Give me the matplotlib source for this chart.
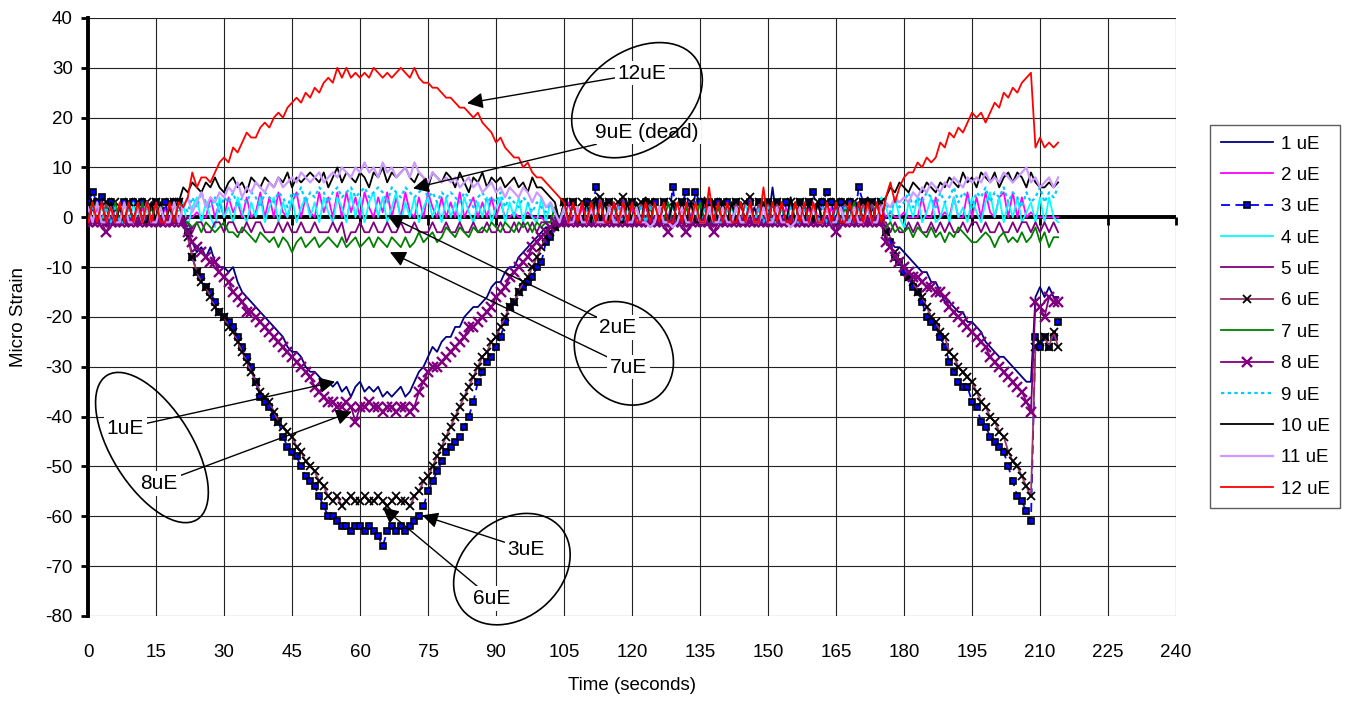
import matplotlib
matplotlib.use('Agg')
import matplotlib.pyplot as plt
import matplotlib.transforms as mtransforms
from matplotlib.patches import Ellipse
import numpy as np

plt.rcParams['font.family'] = ['Liberation Sans', 'DejaVu Sans']
plt.rcParams['axes.unicode_minus'] = False

# one reading per second, t = 0 .. 214 s (each row below = 10 seconds)
ch1 = [
    -1, 2, -1, 3, -1, -1, 2, -1, 3, -1,
    -1, 2, -1, -1, 3, -1, 2, -1, -1, 3,
    -1, -1, -3, -5, -7, -6, -8, -6, -9, -10,
    -10, -11, -10, -13, -15, -16, -17, -18, -19, -20,
    -21, -22, -23, -24, -26, -27, -27, -28, -30, -31,
    -31, -32, -33, -33, -34, -33, -35, -34, -36, -34,
    -33, -35, -34, -35, -34, -36, -35, -36, -35, -34,
    -36, -35, -33, -31, -30, -28, -26, -27, -25, -24,
    -24, -22, -22, -20, -19, -18, -18, -17, -16, -14,
    -13, -13, -11, -10, -10, -8, -7, -6, -5, -4,
    -3, -2, -2, -1, -1, 2, -1, 3, -1, -1,
    2, -1, -1, 3, -1, 2, -1, -1, 3, -1,
    -1, 2, -1, 3, -1, -1, 2, -1, -1, 3,
    -1, 2, -1, -1, 3, -1, 2, -1, 3, -1,
    -1, 2, -1, -1, 3, -1, -1, 2, -1, 3,
    -1, 6, -1, 2, -1, -1, 3, -1, 2, -1,
    -1, 3, -1, 2, -1, -1, 3, -1, 2, -1,
    3, -1, -1, 2, -1, -1, -4, -5, -6, -6,
    -7, -8, -9, -10, -11, -11, -13, -13, -15, -17,
    -17, -18, -19, -19, -21, -21, -22, -23, -25, -26,
    -27, -28, -28, -29, -30, -31, -32, -33, -33, -16,
    -14, -16, -14, -16, -16,
]
ch2 = [
    3, -1, 2, -1, -1, 3, -1, 2, -1, 3,
    -1, -1, 2, -1, 3, -1, -1, 2, -1, -1,
    3, -1, 0, 0, 1, 0, 0, 4, 0, 3,
    0, 4, 1, 3, 0, 4, 0, 1, 5, 0,
    4, 0, 5, 1, 0, 3, 5, 0, 4, 1,
    0, 5, 1, 4, 0, 5, 0, 5, 1, 4,
    0, 5, 2, 0, 4, 1, 5, 0, 4, 0,
    5, 1, 0, 4, 0, 5, 2, 0, 4, 0,
    3, 0, 5, 0, 2, 4, 0, 3, 0, 4,
    0, 3, 0, 0, 1, 0, 0, 1, 0, 0,
    0, -1, -1, 2, -1, -1, 3, -1, -1, 2,
    -1, -1, 3, -1, -1, 2, -1, 3, -1, -1,
    2, -1, -1, 3, -1, -1, 2, -1, -1, 3,
    -1, 2, -1, -1, 3, -1, -1, 2, -1, -1,
    3, -1, -1, 2, -1, 3, -1, -1, 2, -1,
    -1, 3, -1, -1, 2, -1, -1, 3, -1, 2,
    -1, -1, 3, -1, 2, -1, -1, 3, -1, -1,
    2, -1, 3, -1, -1, 2, 0, 1, 0, 0,
    1, 0, 0, 0, 4, 0, 0, 4, 0, 1,
    0, 4, 0, 0, 5, 0, 4, 0, 5, 1,
    0, 4, 5, 0, 5, 0, 4, 0, 1, 0,
    0, 0, 0, 0, 0,
]
ch3 = [
    3, 5, 3, 4, -1, 3, -1, -1, 3, -1,
    3, -1, 3, -1, -1, 3, -1, 3, -1, 3,
    3, -1, -3, -8, -11, -12, -14, -15, -17, -19,
    -20, -21, -22, -24, -26, -28, -30, -33, -36, -37,
    -38, -40, -41, -44, -46, -47, -48, -50, -52, -53,
    -54, -56, -58, -60, -60, -61, -62, -62, -63, -62,
    -62, -63, -62, -63, -64, -66, -63, -62, -63, -62,
    -63, -62, -61, -60, -58, -55, -53, -51, -49, -47,
    -46, -45, -44, -42, -40, -37, -33, -31, -29, -28,
    -26, -24, -21, -18, -17, -15, -14, -13, -12, -10,
    -9, -5, -4, -2, -1, 3, -1, 3, -1, -1,
    3, -1, 6, 3, -1, 3, -1, -1, 3, -1,
    3, -1, -1, 3, -1, 3, -1, 3, -1, 6,
    -1, 3, 5, -1, 5, 3, -1, 3, -1, 3,
    -1, 3, -1, 3, -1, -1, 3, -1, 3, -1,
    3, -1, 3, -1, 3, -1, -1, 3, -1, 3,
    5, -1, 3, 5, 3, -1, 3, -1, 3, -1,
    6, 3, -1, 3, -1, 3, -3, -5, -8, -9,
    -11, -12, -14, -15, -17, -20, -21, -22, -24, -26,
    -29, -31, -33, -34, -34, -37, -38, -41, -42, -44,
    -45, -46, -47, -50, -53, -56, -57, -59, -61, -24,
    -26, -24, -26, -24, -21,
]
ch4 = [
    -1, 3, -1, 2, 3, -1, -1, 2, -1, -1,
    3, -1, -1, 2, -1, 3, -1, -1, 2, -1,
    -1, 3, -2, 2, 4, -1, 3, 0, -2, 4,
    0, 2, -1, 4, 1, -1, 3, 0, 4, -1,
    2, 4, -1, 3, 0, 4, -1, 2, 4, 0,
    3, -1, 4, 1, -1, 4, 2, -1, 5, 0,
    4, -1, 3, 5, 0, 4, -1, 2, 5, -1,
    3, 0, 4, -1, 2, 4, 0, 3, -1, 4,
    0, 3, -1, 4, 1, -1, 3, 0, 4, -1,
    2, 4, -1, 3, 0, 4, -1, 3, 0, -1,
    4, -1, 3, -1, -1, 2, -1, 3, -1, -1,
    2, -1, -1, 3, -1, -1, 2, -1, 3, -1,
    -1, 2, -1, -1, 3, -1, 2, -1, -1, 3,
    -1, -1, 2, -1, 3, -1, -1, 2, -1, -1,
    3, -1, 2, -1, -1, 3, -1, -1, 2, -1,
    -1, 3, -1, 2, -1, 4, -1, -1, 3, -1,
    2, -1, -1, 3, -1, 2, -1, -1, 3, -1,
    -1, 2, -1, 3, -1, 4, 2, -1, 4, 0,
    -2, 3, 0, 4, -1, 1, 4, -1, 0, 3,
    -1, 4, 0, 2, -1, 4, 1, -1, 3, 5,
    0, 4, -1, 3, 0, 4, -1, 1, 3, -1,
    4, -1, 4, 0, -1,
]
ch5 = [
    -1, -1, -1, -1, -1, -1, -1, -1, -1, -1,
    -1, -1, -1, -1, -1, -1, -1, -1, -1, -1,
    -1, -1, -1, -3, -1, -1, -3, -3, -1, -1,
    -3, -1, -1, -3, -3, -1, -3, -1, -1, -3,
    -3, -3, -1, -3, -1, -3, -3, -1, -3, -3,
    -1, -3, -3, -3, -1, -3, -1, -5, -3, -3,
    -1, -3, -3, -1, -3, -3, -1, -3, -3, -1,
    -3, -3, -1, -3, -3, -3, -1, -3, -3, -1,
    -3, -3, -1, -3, -3, -1, -3, -3, -1, -3,
    -3, -1, -3, -3, -1, -3, -1, -3, -1, -3,
    -1, -1, -1, -1, -1, -1, -1, -1, -1, -1,
    -1, -1, -1, -1, -1, -1, -1, -1, -1, -1,
    -1, -1, -1, -1, -1, -1, -1, -1, -1, -1,
    -1, -1, -1, -1, -1, -1, -1, -1, -1, -1,
    -1, -1, -1, -1, -1, -1, -1, -1, -1, -1,
    -1, -1, -1, -1, -1, -1, -1, -1, -1, -1,
    -1, -1, -1, -1, -1, -1, -1, -1, -1, -1,
    -1, -1, -1, -1, -1, -1, -1, -3, -1, -3,
    -3, -1, -3, -1, -3, -3, -1, -3, -1, -3,
    -1, -3, -3, -1, -3, -1, -1, -3, -1, -3,
    -3, -1, -3, -3, -1, -3, -1, -1, -3, -1,
    -3, -1, -3, -1, -3,
]
ch6 = [
    -1, 3, -1, -1, 3, -1, 3, -1, -1, 3,
    -1, 3, -1, 3, -1, 3, -1, -1, 3, 3,
    3, -1, -4, -8, -11, -13, -14, -16, -18, -19,
    -20, -22, -23, -25, -27, -29, -31, -33, -35, -36,
    -37, -39, -41, -42, -43, -44, -46, -47, -49, -50,
    -51, -53, -54, -56, -57, -56, -58, -57, -56, -57,
    -57, -56, -57, -57, -56, -57, -58, -57, -56, -57,
    -57, -58, -56, -55, -53, -52, -50, -48, -46, -44,
    -42, -40, -38, -36, -34, -32, -30, -28, -27, -25,
    -24, -22, -20, -18, -17, -15, -13, -12, -10, -8,
    -6, -4, -3, -2, -1, 3, -1, 3, -1, 3,
    -1, 3, -1, 4, -1, 3, -1, 3, 4, -1,
    3, -1, 3, -1, 3, -1, -1, 3, -1, 3,
    -1, 3, -1, 3, -1, -1, 3, -1, 3, -1,
    3, -1, -1, 3, -1, 3, 4, -1, 3, -1,
    3, -1, 3, -1, -1, 3, -1, 3, -1, 3,
    -1, 3, -1, 3, -1, 3, -1, 3, -1, 3,
    -1, 3, -1, 3, -1, 3, -3, -6, -7, -9,
    -10, -12, -13, -15, -16, -18, -20, -21, -23, -24,
    -27, -28, -30, -31, -32, -33, -35, -37, -38, -40,
    -41, -43, -44, -47, -49, -50, -52, -54, -56, -26,
    -25, -24, -26, -23, -26,
]
ch7 = [
    -1, 3, -1, -1, 2, -1, 3, -1, -1, 3,
    -1, -1, 3, -1, 2, -1, 3, -1, -1, 3,
    -1, -2, -1, -2, -1, -3, -1, -2, -3, -2,
    -1, -3, -3, -4, -2, -3, -4, -5, -3, -4,
    -5, -4, -6, -4, -5, -7, -5, -4, -6, -5,
    -4, -6, -5, -4, -5, -6, -4, -6, -5, -4,
    -6, -5, -4, -6, -4, -5, -6, -4, -5, -6,
    -4, -6, -5, -3, -5, -4, -3, -5, -4, -2,
    -3, -4, -2, -3, -4, -2, -3, -2, -3, -1,
    -2, -3, -1, -2, -3, -1, -2, -1, -3, -1,
    -2, -1, -1, 2, -1, 3, -1, -1, 2, -1,
    -1, 3, -1, -1, -1, 2, -1, -1, -1, 3,
    -1, 3, -1, -1, 2, -1, -1, -1, 3, -1,
    -1, -1, 2, -1, -1, 3, -1, -1, -1, 2,
    -1, -1, 3, -1, -1, -1, 2, -1, -1, 3,
    -1, -1, -1, 2, -1, -1, 3, -1, -1, -1,
    2, -1, -1, 3, -1, -1, -1, 2, -1, 3,
    -1, -1, 2, -1, -1, -1, -2, -1, -3, -2,
    -3, -2, -4, -2, -3, -4, -2, -4, -3, -5,
    -3, -4, -2, -3, -4, -5, -5, -4, -3, -4,
    -6, -4, -3, -5, -4, -5, -3, -5, -4, -2,
    -5, -3, -6, -4, -4,
]
ch8 = [
    -1, -1, -1, -1, -3, -1, -1, -1, -1, -1,
    -1, -1, -1, -1, -1, -1, -1, -1, -1, -1,
    -1, -1, -3, -5, -6, -7, -8, -9, -9, -11,
    -12, -13, -15, -16, -17, -19, -19, -20, -21, -22,
    -23, -24, -25, -26, -27, -28, -29, -30, -31, -32,
    -34, -35, -36, -37, -37, -38, -38, -37, -38, -41,
    -38, -38, -37, -38, -38, -39, -38, -38, -39, -38,
    -38, -39, -38, -35, -33, -31, -30, -30, -29, -28,
    -27, -26, -25, -24, -22, -22, -21, -20, -19, -18,
    -16, -15, -14, -12, -11, -10, -9, -8, -6, -5,
    -4, -3, -2, -1, -1, -1, -1, -1, -1, -1,
    -1, -1, -1, -1, -1, -1, -1, -1, -1, -1,
    -1, -1, -1, -1, -1, -1, -1, -1, -3, -1,
    -1, -1, -3, -1, -1, -1, -1, -1, -3, -1,
    -1, -1, -1, -1, -1, -1, -1, -1, -1, -1,
    -1, -1, -1, -1, -1, -1, -1, -1, -1, -1,
    -1, -1, -1, -1, -1, -3, -1, -1, -1, -1,
    -1, -1, -1, -1, -1, -1, -5, -6, -8, -9,
    -10, -11, -12, -12, -13, -14, -14, -15, -15, -16,
    -18, -19, -20, -21, -22, -23, -24, -25, -26, -28,
    -29, -30, -31, -32, -33, -34, -35, -37, -39, -17,
    -18, -20, -16, -17, -17,
]
ch9 = [
    -1, 2, 2, -1, 2, -1, 2, -1, -1, 2,
    -1, 2, -1, 2, -1, -1, 2, -1, 2, -1,
    2, 3, 1, 4, 2, 5, 3, 2, 4, 1,
    4, 3, 5, 2, 4, 3, 5, 4, 2, 5,
    4, 3, 5, 4, 2, 5, 4, 6, 3, 5,
    4, 6, 5, 3, 5, 6, 4, 5, 6, 4,
    5, 6, 4, 5, 6, 5, 3, 6, 5, 4,
    6, 5, 4, 5, 6, 4, 5, 3, 5, 4,
    5, 4, 3, 5, 4, 2, 4, 5, 3, 4,
    3, 5, 2, 4, 3, 2, 4, 3, 1, 3,
    2, 1, 3, 1, -1, 2, -1, 2, -1, -1,
    2, -1, 2, -1, -1, 2, -1, 2, -1, 2,
    -1, -1, 2, -1, 2, -1, 2, -1, -1, 2,
    -1, 2, -1, -1, 2, -1, 2, -1, 2, -1,
    -1, 2, -1, 2, -1, -1, 2, -1, 2, -1,
    2, -1, -1, 2, -1, 2, -1, -1, 2, -1,
    2, -1, 2, -1, -1, 2, -1, 2, -1, -1,
    2, -1, 2, -1, -1, 2, 3, 1, 4, 2,
    3, 5, 2, 4, 3, 5, 4, 2, 5, 3,
    4, 6, 3, 5, 4, 2, 5, 4, 6, 3,
    5, 4, 6, 3, 5, 4, 2, 5, 3, 4,
    6, 3, 5, 4, 6,
]
ch10 = [
    3, -1, 3, -1, -1, 3, -1, 2, -1, 3,
    -1, 3, -1, -1, 3, -1, 3, -1, 2, -1,
    3, 6, 5, 7, 6, 5, 7, 6, 8, 6,
    5, 7, 8, 6, 7, 5, 8, 7, 6, 8,
    7, 6, 8, 7, 9, 6, 8, 7, 8, 9,
    8, 7, 9, 6, 8, 10, 7, 9, 8, 7,
    9, 8, 6, 9, 8, 10, 7, 9, 8, 9,
    10, 8, 7, 9, 8, 6, 9, 8, 7, 9,
    8, 6, 9, 7, 5, 8, 7, 9, 6, 8,
    7, 8, 6, 7, 8, 6, 7, 5, 8, 6,
    6, 5, 4, 3, -1, 3, -1, 3, -1, -1,
    3, -1, 4, -1, 3, -1, 3, -1, -1, 3,
    -1, 3, -1, 4, -1, 3, -1, 3, -1, 3,
    -1, 3, -1, 3, -1, -1, 4, -1, 3, -1,
    3, -1, 3, -1, 3, -1, 3, -1, -1, 3,
    -1, 3, -1, 3, -1, 4, -1, 3, -1, 3,
    -1, 3, -1, 3, -1, 3, -1, -1, 3, -1,
    3, -1, 4, -1, 3, -1, 4, 6, 5, 7,
    6, 5, 7, 6, 5, 7, 6, 5, 7, 6,
    8, 7, 6, 9, 7, 8, 6, 9, 8, 7,
    9, 6, 8, 9, 7, 9, 8, 6, 9, 7,
    6, 6, 7, 6, 7,
]
ch11 = [
    2, -1, 3, -1, -1, 2, -1, -1, 3, -1,
    -1, 2, -1, 3, -1, -1, 2, -1, -1, 3,
    -1, 2, 4, 1, 3, 5, 2, 4, 3, 5,
    4, 6, 5, 7, 4, 6, 5, 7, 6, 5,
    7, 6, 8, 6, 7, 8, 7, 9, 8, 7,
    8, 9, 7, 8, 9, 8, 10, 9, 8, 10,
    9, 11, 9, 10, 8, 11, 9, 10, 8, 9,
    10, 8, 11, 9, 8, 7, 9, 8, 7, 8,
    7, 8, 6, 7, 8, 6, 7, 5, 6, 7,
    5, 6, 4, 6, 5, 4, 6, 5, 3, 5,
    4, 2, 3, 1, -1, 2, -1, -1, 2, -1,
    -1, 2, -1, -1, -1, 2, -1, -1, 2, -1,
    -1, 2, -1, -1, -2, -1, 2, -1, -1, -2,
    -1, 2, -1, -1, 2, -1, -1, 2, -1, -1,
    2, -1, -1, 2, -1, -1, 2, -1, -1, 2,
    -1, -1, 2, -1, -1, -2, -1, 2, -1, -1,
    2, -1, -1, 2, -1, -1, 2, -1, -1, 2,
    -1, -1, 2, -1, -1, 2, 3, 2, 4, 3,
    4, 3, 5, 4, 6, 5, 7, 6, 5, 7,
    6, 8, 7, 6, 8, 7, 8, 7, 9, 7,
    8, 7, 9, 8, 7, 8, 9, 10, 7, 8,
    6, 7, 8, 6, 8,
]
ch12 = [
    -1, 3, -1, 3, -1, 2, -1, 3, -1, 3,
    -1, 3, -1, 3, -1, 3, -1, -1, 3, -1,
    3, 2, 4, 9, 6, 8, 8, 7, 9, 11,
    12, 11, 14, 13, 15, 17, 16, 16, 18, 19,
    18, 20, 21, 20, 22, 23, 24, 23, 25, 24,
    26, 25, 27, 28, 27, 30, 28, 30, 28, 29,
    28, 29, 28, 30, 29, 28, 29, 28, 29, 30,
    29, 28, 30, 28, 27, 27, 26, 26, 25, 24,
    24, 23, 22, 22, 21, 20, 21, 19, 18, 17,
    15, 16, 14, 13, 12, 12, 10, 11, 9, 8,
    8, 7, 6, 5, 4, 3, -1, 3, -1, 3,
    -1, 3, -1, 3, -1, -1, 3, -1, 3, -1,
    3, -1, -1, 3, -1, 3, -1, 3, -1, -1,
    3, -1, 3, -1, 3, -1, -1, 6, -1, 3,
    -1, 3, -1, -1, 3, -1, 3, -1, -1, 6,
    -1, 3, -1, 3, -1, -1, 3, -1, 3, -1,
    3, -1, -1, 3, -1, 3, -1, -1, 3, -1,
    3, -1, 3, -1, 3, -1, 4, 7, 3, 6,
    8, 9, 9, 11, 10, 12, 11, 12, 15, 14,
    17, 16, 18, 17, 19, 21, 20, 21, 19, 21,
    23, 22, 25, 24, 26, 25, 27, 28, 29, 14,
    16, 14, 15, 14, 15,
]

series = [ch1, ch2, ch3, ch4, ch5, ch6, ch7, ch8, ch9, ch10, ch11, ch12]
labels = ['1 uE', '2 uE', '3 uE', '4 uE', '5 uE', '6 uE',
          '7 uE', '8 uE', '9 uE', '10 uE', '11 uE', '12 uE']
xticks = list(range(0, 241, 15))
yticks = list(range(-80, 41, 10))

# callout texts: (label, text position, arrow tip) in data units
notes = [
    ('12uE', (122.2, 28.9), (83.6, 22.9)),
    ('9uE (dead)', (123.3, 17.1), (71.7, 5.8)),
    ('2uE', (116.9, -22.1), (66.0, 0.4)),
    ('7uE', (119.3, -30.1), (66.6, -7.0)),
    ('1uE', (8.2, -42.3), (54.5, -33.0)),
    ('8uE', (15.7, -53.4), (58.2, -39.0)),
    ('3uE', (96.6, -66.6), (73.7, -59.8)),
    ('6uE', (89.1, -76.5), (65.0, -58.2)),
]
# ellipses round the callouts: centre (data), semi axes (px), angle
rings = [
    ((121.1, 23.5), 72, 49, 35),
    ((118.2, -27.3), 55, 46, -52),
    ((14.1, -46.2), 85, 40, -58),
    ((93.5, -70.6), 64, 49, 40),
]

styles = [
    dict(color='#000080', lw=1.3),
    dict(color='#FF00FF', lw=1.3),
    dict(color='#0000FF', lw=1.3, ls=(0, (5, 3)), marker='s', ms=4.8,
         mfc='#0000FF', mec='black', mew=1.2),
    dict(color='#00FFFF', lw=1.3),
    dict(color='#800080', lw=1.3),
    dict(color='#993366', lw=1.3, marker='x', ms=5.5, mec='black', mew=1.3),
    dict(color='#008000', lw=1.3),
    dict(color='#800080', lw=1.3, marker='x', ms=6.5, mec='#800080', mew=1.7),
    dict(color='#00CCFF', lw=1.6, ls=(0, (1.5, 1.5))),
    dict(color='black', lw=1.3),
    dict(color='#CC99FF', lw=1.6),
    dict(color='#FF0000', lw=1.3),
]


def main():
    fig = plt.figure(figsize=(13.46, 7.01), dpi=100)
    ax = fig.add_axes([0.0654, 0.1213, 0.8083, 0.8531])

    handles = []
    for vals, lab, st in zip(series, labels, styles):
        t = np.arange(len(vals))
        h, = ax.plot(t, vals, label=lab, zorder=3, **st)
        handles.append(h)

    ax.set_xlim(0, 240)
    ax.set_ylim(-80, 40)
    ax.set_xticks(xticks)
    ax.set_yticks(yticks)
    ax.grid(True, color='#222222', lw=0.8, zorder=0)
    ax.set_axisbelow(True)
    for s in ['top', 'right', 'bottom']:
        ax.spines[s].set_visible(False)
    ax.spines['left'].set_linewidth(2.8)
    ax.tick_params(axis='y', direction='out', length=5, width=2, pad=6,
                   labelsize=13.5)
    ax.tick_params(axis='x', length=0, pad=20, labelsize=13.5)

    # zero line acting as category axis, with its tick marks
    ax.axhline(0, color='black', lw=2.8, zorder=2.5)
    ax.plot(xticks, [0] * len(xticks), ls='none', marker=3, ms=6, mew=2,
            color='black', zorder=2.5, clip_on=False)

    ax.set_xlabel('Time (seconds)', fontsize=13.5)
    ax.set_ylabel('Micro Strain', fontsize=13.5)
    ax.xaxis.set_label_coords(0.5, -0.102)
    ax.yaxis.set_label_coords(-0.056, 0.5)

    for txt, pos, tip in notes:
        ax.annotate(txt, xy=tip, xytext=pos, ha='center', va='center',
                    fontsize=15, zorder=6,
                    bbox=dict(fc='white', ec='none', pad=2),
                    arrowprops=dict(arrowstyle='-|>', color='black', lw=1,
                                    mutation_scale=24, shrinkA=0, shrinkB=0))

    for (cx, cy), a, b, ang in rings:
        tr = mtransforms.Affine2D() + mtransforms.ScaledTranslation(cx, cy, ax.transData)
        ax.add_patch(Ellipse((0, 0), 2 * a, 2 * b, angle=ang, transform=tr,
                             fill=False, ec='black', lw=1.2, zorder=7,
                             clip_on=False))

    leg = fig.legend(handles=handles, loc='center left',
                     bbox_to_anchor=(0.8993, 0.5485), fontsize=13.5,
                     frameon=True, fancybox=False, edgecolor='#333333',
                     handlelength=2.8, labelspacing=0.76, borderpad=0.55,
                     handletextpad=0.4, borderaxespad=0, numpoints=1)
    leg.get_frame().set_linewidth(1.0)

    fig.savefig('out.png', dpi=100)


if __name__ == '__main__':
    main()
